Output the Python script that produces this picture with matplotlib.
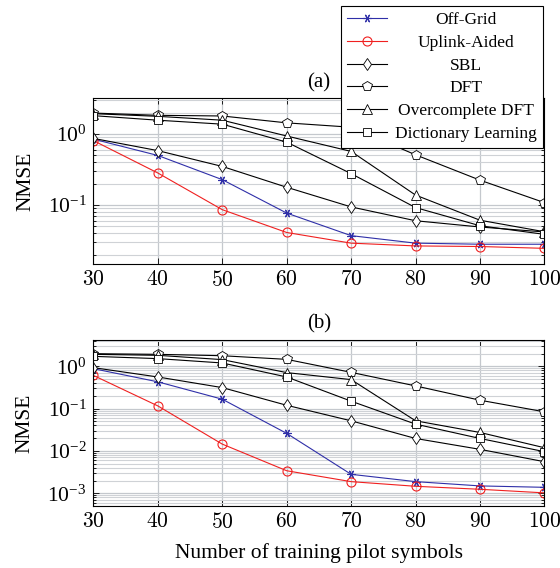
import matplotlib
matplotlib.use("Agg")
import matplotlib.pyplot as plt
from matplotlib.ticker import LogLocator, NullFormatter, FixedLocator

plt.rcParams['font.family'] = ['Liberation Serif', 'DejaVu Serif']
plt.rcParams['mathtext.fontset'] = 'cm'

pilots = [30, 40, 50, 60, 70, 80, 90, 100]

# panel (a)
offgrid_a = [0.85, 0.50, 0.228, 0.077, 0.037, 0.029, 0.028, 0.028]
uplink_a = [0.81, 0.283, 0.086, 0.041, 0.029, 0.0265, 0.026, 0.0245]
sbl_a = [0.87, 0.585, 0.35, 0.178, 0.094, 0.060, 0.049, 0.0417]
dft_a = [1.98, 1.84, 1.80, 1.44, 1.25, 0.51, 0.224, 0.108]
ocdft_a = [1.94, 1.78, 1.57, 0.94, 0.57, 0.138, 0.061, 0.042]
dl_a = [1.82, 1.57, 1.38, 0.77, 0.277, 0.092, 0.051, 0.0386]

# panel (b)
offgrid_b = [0.88, 0.43, 0.167, 0.026, 0.0028, 0.00188, 0.00149, 0.00138]
uplink_b = [0.61, 0.116, 0.0145, 0.0034, 0.00188, 0.00146, 0.00124, 0.00102]
sbl_b = [0.93, 0.56, 0.314, 0.12, 0.0515, 0.0197, 0.0109, 0.00556]
dft_b = [1.99, 1.92, 1.78, 1.46, 0.72, 0.344, 0.158, 0.084]
ocdft_b = [1.92, 1.82, 1.44, 0.71, 0.485, 0.0515, 0.0273, 0.0119]
dl_b = [1.72, 1.52, 1.2, 0.56, 0.15, 0.043, 0.0197, 0.0096]

labels = ['Off-Grid', 'Uplink-Aided', 'SBL', 'DFT', 'Overcomplete DFT',
          'Dictionary Learning']

styles = [
    dict(color='#2f2fa8', marker=(6, 2, 90), ms=6, mew=0.8),
    dict(color='#f02020', marker='o', ms=6.5, mfc='none', mew=0.8),
    dict(color='black', marker='d', ms=6, mfc='white', mew=0.6),
    dict(color='black', marker='p', ms=7, mfc='white', mew=0.6),
    dict(color='black', marker='^', ms=6.5, mfc='white', mew=0.6),
    dict(color='black', marker='s', ms=6.3, mfc='white', mew=0.6),
]

fig = plt.figure(figsize=(5.6, 5.68), dpi=100)
ax_a = fig.add_axes([0.1667, 0.5347, 0.8056, 0.2923])
ax_b = fig.add_axes([0.1667, 0.1092, 0.8056, 0.2923])

panels = [
    (ax_a, [offgrid_a, uplink_a, sbl_a, dft_a, ocdft_a, dl_a], (0.0146, 3.2), '(a)'),
    (ax_b, [offgrid_b, uplink_b, sbl_b, dft_b, ocdft_b, dl_b], (5e-4, 4.2), '(b)'),
]

for ax, series, ylim, tag in panels:
    lines = []
    for vals, st in zip(series, styles):
        ln, = ax.plot(pilots, vals, lw=0.8, **st)
        lines.append(ln)
    ax.set_yscale('log')
    ax.set_xlim(30, 100)
    ax.set_ylim(*ylim)
    ax.xaxis.set_major_locator(FixedLocator(pilots))
    ax.set_xticklabels(['$%d$' % p for p in pilots])
    ax.yaxis.set_major_locator(LogLocator(base=10, numticks=10))
    ax.yaxis.set_minor_locator(LogLocator(base=10, subs=range(2, 10), numticks=20))
    ax.yaxis.set_minor_formatter(NullFormatter())
    ax.grid(True, which='major', color='#c4c8cd', lw=0.9)
    ax.grid(True, which='minor', axis='y', color='#cfd2d6', lw=0.8)
    ax.set_axisbelow(True)
    ax.tick_params(which='both', direction='in', top=True, right=True,
                   labelsize=15.5, width=0.6)
    ax.tick_params(which='major', length=4, pad=5)
    ax.tick_params(which='minor', length=2)
    ax.set_ylabel('NMSE', fontsize=15.5, labelpad=9)
    ax.set_title(tag, fontsize=15, pad=8)
    for sp in ax.spines.values():
        sp.set_linewidth(0.8)

ax_b.set_xlabel('Number of training pilot symbols', fontsize=15.5, labelpad=7)

leg = fig.legend(lines, labels, loc='upper right',
                 bbox_to_anchor=(0.9696, 0.9894), fontsize=12.5,
                 handlelength=2.3, handletextpad=0.45, labelspacing=0.38,
                 borderpad=0.35, borderaxespad=0, frameon=True, fancybox=False,
                 edgecolor='black', framealpha=1)
leg.get_frame().set_linewidth(0.8)

# centre the legend entries' text like pgfplots does
fig.canvas.draw()
renderer = fig.canvas.get_renderer()
widths = [t.get_window_extent(renderer).width for t in leg.get_texts()]
wmax = max(widths)
items = leg._legend_handle_box.get_children()[0].get_children()
for item, w in zip(items, widths):
    item.sep = item.sep + (wmax - w) / 2 * 72.0 / fig.dpi

fig.savefig('out.png', dpi=100)
